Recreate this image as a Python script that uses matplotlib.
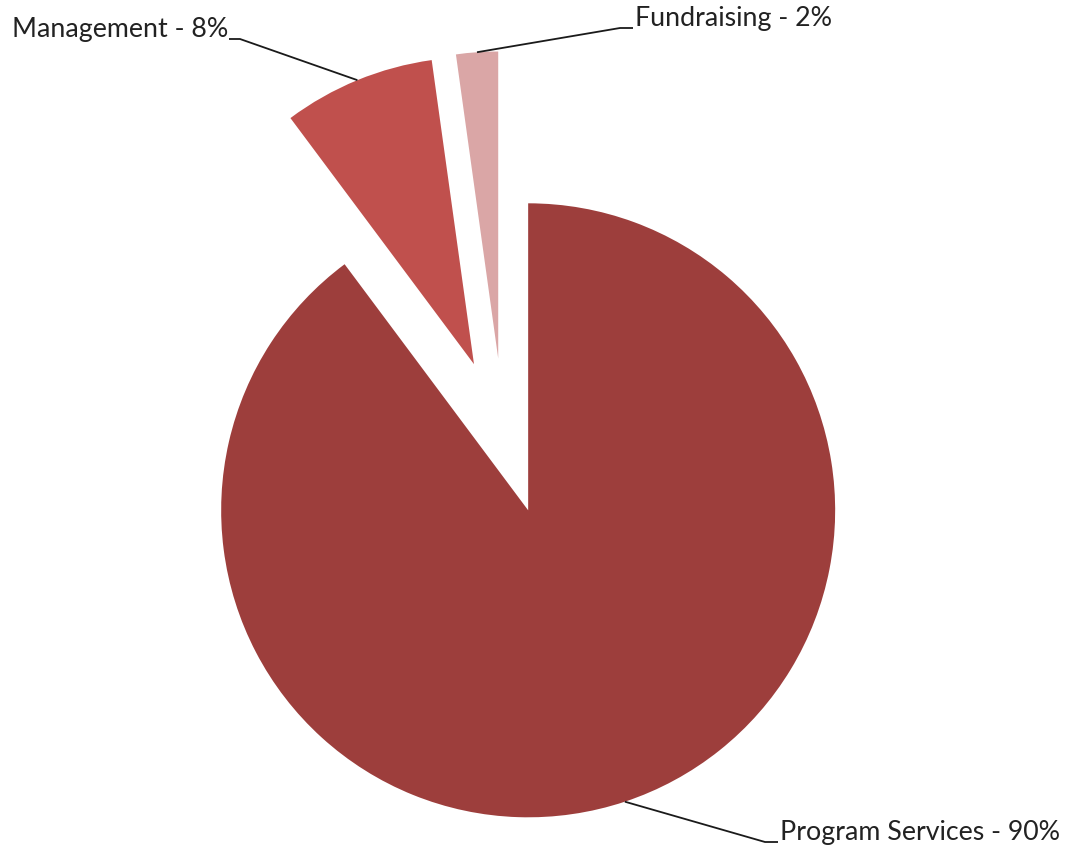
import numpy as np
import matplotlib.pyplot as plt

labels = ["Program Services", "Management", "Fundraising"]
shares = [89.8, 8.0, 2.2]
colors = ["#9D3E3C", "#C0504D", "#DAA6A6"]
explode = [0.254, 0.254, 0.254]

# label stub end (where the text starts), in pixels from bottom-left
label_pos = {
    "Program Services": (778, 7),
    "Management": (229, 810),
    "Fundraising": (633, 821),
}

W, H = 1067, 849
R = 307.0               # pie radius in pixels
CX, CY = 503.6, 412.7   # pie centre in pixels

fig = plt.figure(figsize=(W / 100, H / 100), dpi=100)
ax = fig.add_axes([0, 0, 1, 1])

wedges, _ = ax.pie(shares, colors=colors, explode=explode, startangle=90,
                   counterclock=False, wedgeprops=dict(linewidth=0))
# 1 data unit = R pixels
ax.set_xlim(-CX / R, (W - CX) / R)
ax.set_ylim(-CY / R, (H - CY) / R)
ax.set_aspect("equal")
ax.axis("off")

for w, name, val in zip(wedges, labels, shares):
    mid = np.deg2rad((w.theta1 + w.theta2) / 2)
    cx, cy = w.center
    x0 = cx + w.r * np.cos(mid)
    y0 = cy + w.r * np.sin(mid)
    tx, ty = label_pos[name]
    tx, ty = (tx - CX) / R, (ty - CY) / R
    right = tx > x0
    stub = (13 if right else -11) / R
    ax.plot([x0, tx - stub, tx], [y0, ty, ty], color="#1a1a1a", lw=1.3,
            solid_capstyle="butt")
    ax.text(tx + (2 if right else -1) / R, ty + 2 / R,
            "%s - %.0f%%" % (name, val),
            ha="left" if right else "right", va="baseline",
            fontsize=19.3, family="Lato", color="#222222")

fig.savefig("out.png", dpi=100)
